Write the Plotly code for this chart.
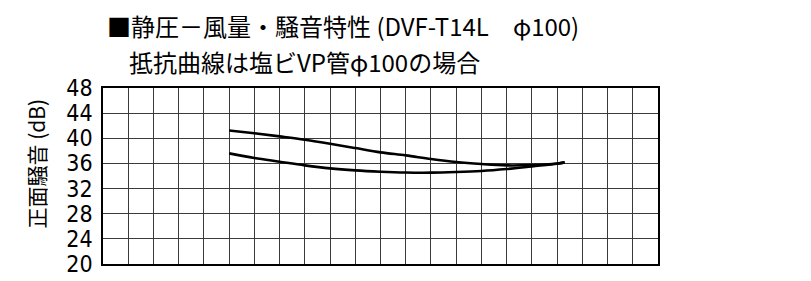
import plotly.graph_objects as go

# Data
upper_x = [5, 6, 7, 8, 9, 10, 11, 12, 13, 14, 15, 16, 17, 18, 18.3]
upper_y = [41.25, 40.8, 40.3, 39.77, 39.14, 38.45, 37.76, 37.28, 36.70, 36.22, 35.9, 35.69, 35.75, 36.0, 36.17]
lower_x = [5, 6, 7, 8, 9, 10, 11, 12, 13, 14, 15, 16, 17, 18, 18.3]
lower_y = [37.6, 36.86, 36.27, 35.69, 35.21, 34.89, 34.68, 34.55, 34.53, 34.63, 34.8, 35.11, 35.53, 35.96, 36.17]
y_ticks = [20, 24, 28, 32, 36, 40, 44, 48]

title1 = "■静圧－風量・騒音特性 (DVF-T14L　φ100)"
title2 = "抵抗曲線は塩ビVP管φ100の場合"
ytitle = "正面騒音 (dB)"

NARROW = "DejaVu Sans Condensed, Noto Sans CJK JP, sans-serif"
CJK = "Noto Sans CJK JP, sans-serif"

fig = go.Figure()
for xs, ys in [(upper_x, upper_y), (lower_x, lower_y)]:
    fig.add_trace(go.Scatter(x=xs, y=ys, mode="lines",
                             line=dict(color="black", width=2.6, shape="spline"),
                             showlegend=False, hoverinfo="skip"))

OFF = 8  # page body margin
W, H = 811 - OFF, 281 - OFF
L, T = 103 - OFF, 88 - OFF
pw, ph = 555, 176
R = W - L - pw
B = H - T - ph

def px2paper(px, py):
    # px, py in window pixels
    return (px - OFF - L) / pw, (T + ph - (py - OFF)) / ph

fig.update_layout(
    width=W, height=H,
    margin=dict(l=L, r=R, t=T, b=B, autoexpand=False),
    plot_bgcolor="white", paper_bgcolor="white",
    font=dict(family=CJK, color="black"),
    xaxis=dict(range=[0, 22], dtick=1, tick0=0, showticklabels=False,
               showgrid=True, gridcolor="#3a3a3a", gridwidth=1,
               showline=True, linecolor="black", linewidth=1.5, mirror=True,
               zeroline=False, ticks="", automargin=False),
    yaxis=dict(range=[20, 48], tickvals=y_ticks, ticktext=[str(v) for v in y_ticks],
               showgrid=True, gridcolor="#3a3a3a", gridwidth=1,
               showline=True, linecolor="black", linewidth=1.5, mirror=True,
               zeroline=False, ticks="", ticklabelstandoff=4, automargin=False,
               tickfont=dict(family=NARROW, size=23, color="black")),
)

x1, y1 = px2paper(105, 25)
x2, y2 = px2paper(127, 61)
x3, y3 = px2paper(35, 163.5)
fig.add_annotation(text=title1, x=x1, y=y1, xref="paper", yref="paper",
                   xanchor="left", yanchor="middle", showarrow=False,
                   font=dict(family=CJK, size=24, color="black"))
fig.add_annotation(text=title2, x=x2, y=y2, xref="paper", yref="paper",
                   xanchor="left", yanchor="middle", showarrow=False,
                   font=dict(family=CJK, size=24, color="black"))
fig.add_annotation(text=ytitle, x=x3, y=y3, xref="paper", yref="paper",
                   xanchor="center", yanchor="middle", showarrow=False, textangle=-90,
                   font=dict(family=CJK, size=21, color="black"))

fig.write_html("out.html")
